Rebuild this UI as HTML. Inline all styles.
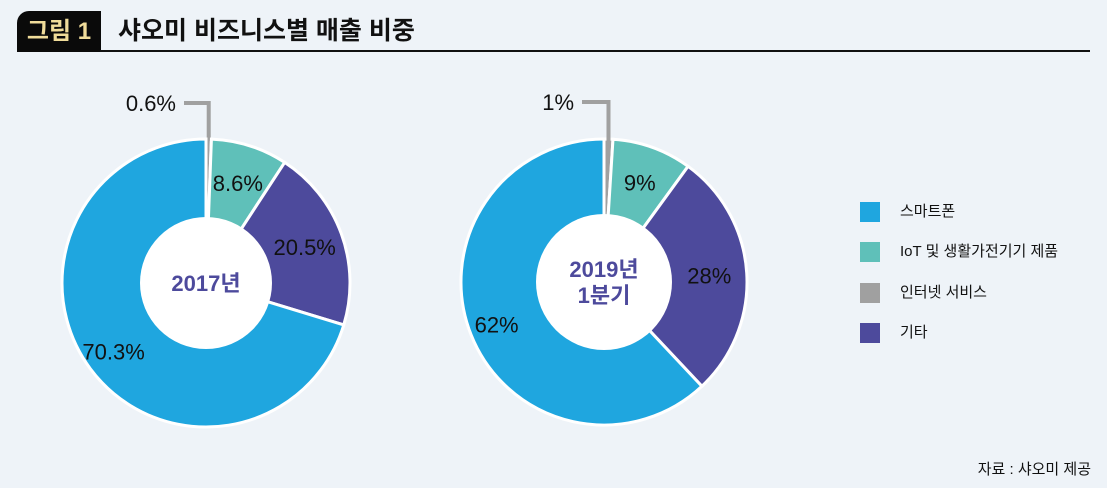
<!DOCTYPE html>
<html><head><meta charset="utf-8"><style>
body{margin:0;width:1107px;height:488px;background:#eef3f8;font-family:"Liberation Sans","Noto Sans CJK KR",sans-serif;overflow:hidden;position:relative}
.tab{position:absolute;left:17px;top:11px;width:84px;height:41px;background:#0a0a0a;border-radius:12px 0 0 0;color:#f0dc9a;font-size:24px;font-weight:bold;line-height:41px;text-align:center}
.title{position:absolute;left:118px;top:11px;font-size:25px;font-weight:bold;color:#111;line-height:41px}
.rule{position:absolute;left:100px;top:50px;width:990px;height:2px;background:#111}
.leg{position:absolute;left:860px;font-size:15px;color:#111}
.leg span{display:inline-block;width:20px;height:20px;vertical-align:middle;margin-right:20px}
.src{position:absolute;right:16px;top:458px;font-size:15px;color:#111}
</style></head><body>
<div class="tab">그림 1</div>
<div class="title">샤오미 비즈니스별 매출 비중</div>
<div class="rule"></div>
<svg id="c" width="1107" height="488" style="position:absolute;left:0;top:0"></svg>
<div class="leg" style="top:200px"><span style="background:#1fa6df"></span>스마트폰</div>
<div class="leg" style="top:240px"><span style="background:#5fc0b9"></span>IoT 및 생활가전기기 제품</div>
<div class="leg" style="top:281px"><span style="background:#a0a0a0"></span>인터넷 서비스</div>
<div class="leg" style="top:321px"><span style="background:#4d4a9c"></span>기타</div>
<div class="src">자료 : 샤오미 제공</div>
<script>
const categories=["인터넷 서비스","IoT 및 생활가전기기 제품","기타","스마트폰"];
const values2017=[0.6,8.6,20.5,70.3];
const values2019=[1,9,28,62];
const labels2017=["0.6%","8.6%","20.5%","70.3%"];
const labels2019=["1%","9%","28%","62%"];
const colors=["#a0a0a0","#5fc0b9","#4d4a9c","#1fa6df"];
const NS="http://www.w3.org/2000/svg";
const svg=document.getElementById('c');
function mk(t,a){const e=document.createElementNS(NS,t);for(const k in a)e.setAttribute(k,a[k]);svg.appendChild(e);return e;}
function donut(cx,cy,R,r,vals,labs,center,key){
  const tot=vals.reduce((a,b)=>a+b,0);let a0=0;
  vals.forEach((v,i)=>{
    const a1=a0+v/tot*2*Math.PI;
    const p=(a)=>[cx+R*Math.sin(a),cy-R*Math.cos(a)];
    const [x0,y0]=p(a0),[x1,y1]=p(a1);
    const path=mk('path',{d:`M${cx},${cy}L${x0},${y0}A${R},${R} 0 ${a1-a0>Math.PI?1:0} 1 ${x1},${y1}Z`,fill:colors[i],stroke:'#fff','stroke-width':3});
    
    
    const am=(a0+a1)/2;let lx,ly,anchor='middle';
    if(i===0){
      const tx=cx+R*Math.sin(am);
      const ln=mk('polyline',{points:`${cx-22},${cy-180} ${tx},${cy-180} ${tx},${cy-R+2}`,fill:'none',stroke:'#a0a0a0','stroke-width':4});
      
      
      lx=cx-30;ly=cy-172;anchor='end';
    } else {const rr=(R+r)/2+ (i===3?10:0);lx=cx+rr*Math.sin(am);ly=cy-rr*Math.cos(am)+8;}
    const t=mk('text',{x:lx,y:ly,'text-anchor':anchor,'font-size':22,fill:i===0?'#111':'#111'});
    t.textContent=labs[i];
    
    
    a0=a1;
  });
  const c=mk('circle',{cx,cy,r,fill:'#fff'});
  
  
  center.forEach((s,j)=>{const t=mk('text',{x:cx,y:cy+8+(j-(center.length-1)/2)*26,'text-anchor':'middle','font-size':22,'font-weight':'bold',fill:'#4d4a9c'});t.textContent=s;
    
    });
}
donut(206,283,144,66,values2017,labels2017,["2017년"],'donut-2017');
donut(604,282,143,68,values2019,labels2019,["2019년","1분기"],'donut-2019');
</script>
</body></html>
